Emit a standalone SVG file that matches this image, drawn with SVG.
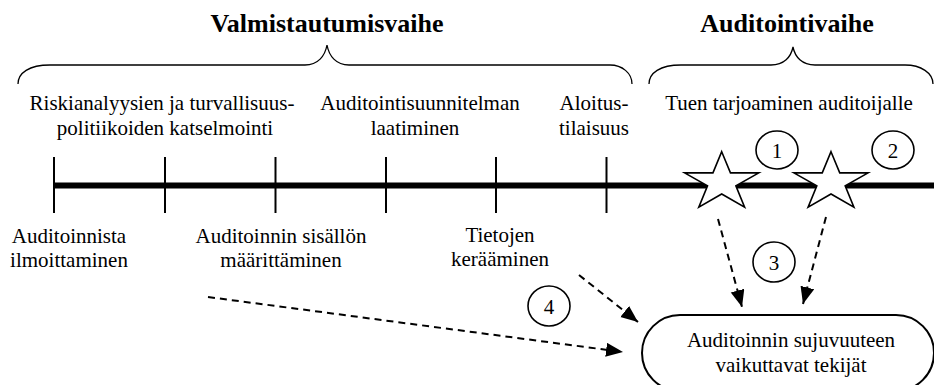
<svg xmlns="http://www.w3.org/2000/svg" width="934" height="385" viewBox="0 0 934 385">
<style>
  text { font-family: "Liberation Serif", "Times New Roman", serif; fill: #000; }
  .t { font-size: 21px; text-anchor: middle; }
  .h { font-size: 26px; font-weight: bold; text-anchor: middle; }
  .brace { fill: none; stroke: #000; stroke-width: 1.3; }
  .tick { stroke: #000; stroke-width: 2; }
  .num { fill: #fff; stroke: #000; stroke-width: 1.6; }
  .star { fill: #fff; stroke: #000; stroke-width: 1.6; stroke-linejoin: miter; }
  .arrow { fill: none; stroke: #000; stroke-width: 2; stroke-dasharray: 7 5; marker-end: url(#ah); }
</style>
<defs>
  <marker id="ah" markerUnits="userSpaceOnUse" markerWidth="20" markerHeight="16" refX="17" refY="7" orient="auto">
    <path d="M0,0 L17,7 L0,14 Z" fill="#000"/>
  </marker>
  <polygon id="starShape" points="0,-30.6 8.76,-9.46 37.1,-9.46 14.17,3.61 22.9,24.8 0,11.69 -22.9,24.8 -14.17,3.61 -37.1,-9.46 -8.76,-9.46"/>
</defs>

<g id="phase-valmistautumisvaihe">
  <text class="h" x="327" y="32">Valmistautumisvaihe</text>
  <path class="brace" d="M18,84 C18,73 29,65 50,65 L305,65 C318,65 325,56 327,45 C329,56 336,65 349,65 L610,65 C622,65 632,73 632,84"/>
</g>
<g id="phase-auditointivaihe">
  <text class="h" x="787" y="32">Auditointivaihe</text>
  <path class="brace" d="M649,84 C649,73 660,65 681,65 L771,65 C784,65 791,57 793,47 C795,57 802,65 815,65 L905,65 C921,65 933,73 933,84"/>
</g>

<g id="timeline">
  <line x1="54" y1="185.5" x2="934" y2="185.5" stroke="#000" stroke-width="6"/>
  <line class="tick" x1="54" y1="157" x2="54" y2="213"/>
  <line class="tick" x1="165" y1="157" x2="165" y2="213"/>
  <line class="tick" x1="275.5" y1="157" x2="275.5" y2="213"/>
  <line class="tick" x1="386" y1="157" x2="386" y2="213"/>
  <line class="tick" x1="496" y1="157" x2="496" y2="213"/>
  <line class="tick" x1="606.5" y1="157" x2="606.5" y2="213"/>
</g>

<g id="label-riskianalyysit">
  <text class="t" x="162" y="110">Riskianalyysien ja turvallisuus-</text>
  <text class="t" x="165" y="135">politiikoiden katselmointi</text>
</g>
<g id="label-suunnitelma">
  <text class="t" x="420" y="110">Auditointisuunnitelman</text>
  <text class="t" x="415" y="135">laatiminen</text>
</g>
<g id="label-aloitus">
  <text class="t" x="594" y="110">Aloitus-</text>
  <text class="t" x="594" y="135">tilaisuus</text>
</g>
<g id="label-tuki">
  <text class="t" x="789" y="110">Tuen tarjoaminen auditoijalle</text>
</g>
<g id="label-ilmoittaminen">
  <text class="t" x="69" y="243">Auditoinnista</text>
  <text class="t" x="69" y="267">ilmoittaminen</text>
</g>
<g id="label-sisalto">
  <text class="t" x="281" y="243">Auditoinnin sisällön</text>
  <text class="t" x="281" y="267">määrittäminen</text>
</g>
<g id="label-tietojen">
  <text class="t" x="500" y="242">Tietojen</text>
  <text class="t" x="500" y="266">kerääminen</text>
</g>

<g id="star-1"><use href="#starShape" class="star" transform="translate(721.7,182.3)"/></g>
<g id="star-2"><use href="#starShape" class="star" transform="translate(831,182.3)"/></g>

<g id="marker-1"><ellipse class="num" cx="777" cy="150" rx="21" ry="19"/><text class="t" x="777" y="157.5">1</text></g>
<g id="marker-2"><ellipse class="num" cx="893" cy="150" rx="21" ry="19"/><text class="t" x="893" y="157.5">2</text></g>
<g id="marker-3"><ellipse class="num" cx="774" cy="262" rx="21" ry="20"/><text class="t" x="774" y="269.5">3</text></g>
<g id="marker-4"><ellipse class="num" cx="549" cy="306" rx="21" ry="20"/><text class="t" x="549" y="313.5">4</text></g>

<g id="factors">
  <rect x="642" y="315" width="292" height="76" rx="38" ry="38" fill="#fff" stroke="#000" stroke-width="2"/>
  <text class="t" x="791" y="347">Auditoinnin sujuvuuteen</text>
  <text class="t" x="791" y="372">vaikuttavat tekijät</text>
</g>

<g id="connectors">
  <line class="arrow" x1="208" y1="297" x2="623" y2="352"/>
  <line class="arrow" x1="579" y1="275" x2="638" y2="322"/>
  <line class="arrow" x1="718" y1="219" x2="742" y2="307"/>
  <line class="arrow" x1="826" y1="217" x2="803" y2="304"/>
</g>
</svg>
